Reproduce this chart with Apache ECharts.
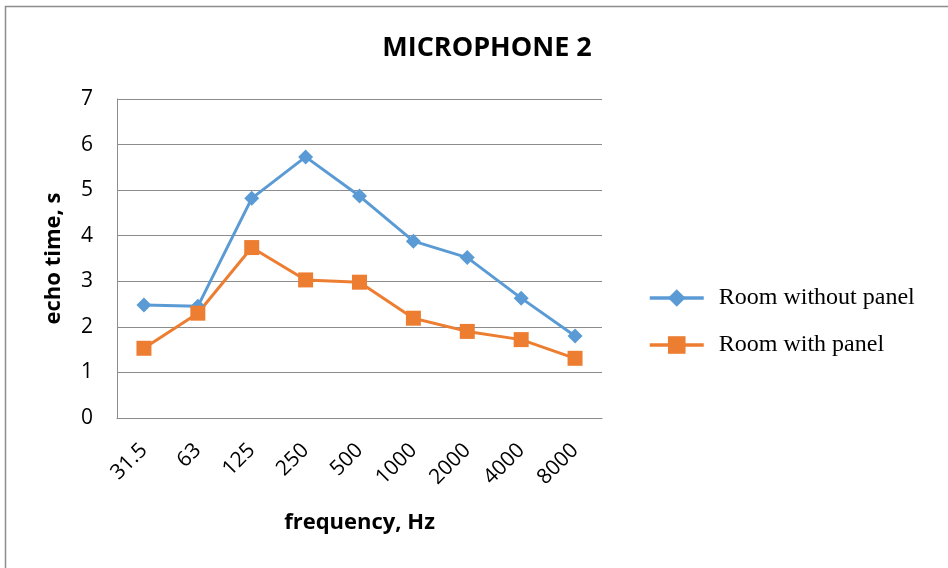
<!DOCTYPE html>
<html><head><meta charset="utf-8">
<script src="https://cdn.jsdelivr.net/npm/echarts@6/dist/echarts.min.js"></script>
<style>html,body{margin:0;padding:0;background:#fff}#c{width:948px;height:568px}</style>
</head><body><div id="c"></div>
<script>
const categories = ['31.5','63','125','250','500','1000','2000','4000','8000'];
const withoutPanel = [2.48, 2.45, 4.82, 5.73, 4.87, 3.88, 3.52, 2.63, 1.80];
const withPanel = [1.53, 2.30, 3.74, 3.03, 2.98, 2.19, 1.90, 1.72, 1.31];
const yTicks = {min: 0, max: 7, interval: 1};

const chart = echarts.init(document.getElementById('c'));
chart.setOption({
  animation: false,
  backgroundColor: '#fff',
  graphic: [{type:'rect', shape:{x:5.5,y:6.5,width:1000,height:600}, style:{fill:'none', stroke:'#8c8c8c', lineWidth:1.5}}],
  title: {text:'MICROPHONE 2', left: 482, top: 30, textAlign:'center',
    textStyle:{fontFamily:'Open Sans', fontWeight:'bold', fontSize:27, color:'#000'}},
  grid: {left:117, right:346, top:99, bottom:150, containLabel:false},
  legend: {orient:'vertical', left:643, top:279, itemWidth:54, itemHeight:22, itemGap:19,
    lineStyle:{width:3.5},
    textStyle:{fontFamily:'Liberation Serif', fontSize:24, lineHeight:28, color:'#000', padding:[0,0,0,10]},
    data:['Room without panel','Room with panel']},
  xAxis: {type:'category', data:categories, boundaryGap:true,
    axisLine:{lineStyle:{color:'#8c8c8c'}}, axisTick:{show:false},
    axisLabel:{rotate:45, fontFamily:'Open Sans', fontSize:21, color:'#000', margin:29},
    name:'frequency, Hz', nameLocation:'middle', nameGap:94,
    nameTextStyle:{fontFamily:'Open Sans', fontWeight:'bold', fontSize:22, color:'#000'}},
  yAxis: {type:'value', min:yTicks.min, max:yTicks.max, interval:yTicks.interval,
    axisLine:{show:true, lineStyle:{color:'#8c8c8c'}}, axisTick:{show:false},
    splitLine:{lineStyle:{color:'#8c8c8c'}},
    axisLabel:{fontFamily:'Open Sans', fontSize:21, color:'#000', margin:24},
    name:'echo time, s', nameLocation:'middle', nameGap:52, nameRotate:90,
    nameTextStyle:{fontFamily:'Open Sans', fontWeight:'bold', fontSize:22, color:'#000'}},
  series: [
    {name:'Room without panel', type:'line', data:withoutPanel, symbol:'diamond', symbolSize:15,
      color:'#5b9bd5', lineStyle:{width:3, color:'#5b9bd5'}, itemStyle:{color:'#5b9bd5'}},
    {name:'Room with panel', type:'line', data:withPanel, symbol:'rect', symbolSize:15,
      color:'#ed7d31', lineStyle:{width:3, color:'#ed7d31'}, itemStyle:{color:'#ed7d31'}}
  ]
});
</script></body></html>
